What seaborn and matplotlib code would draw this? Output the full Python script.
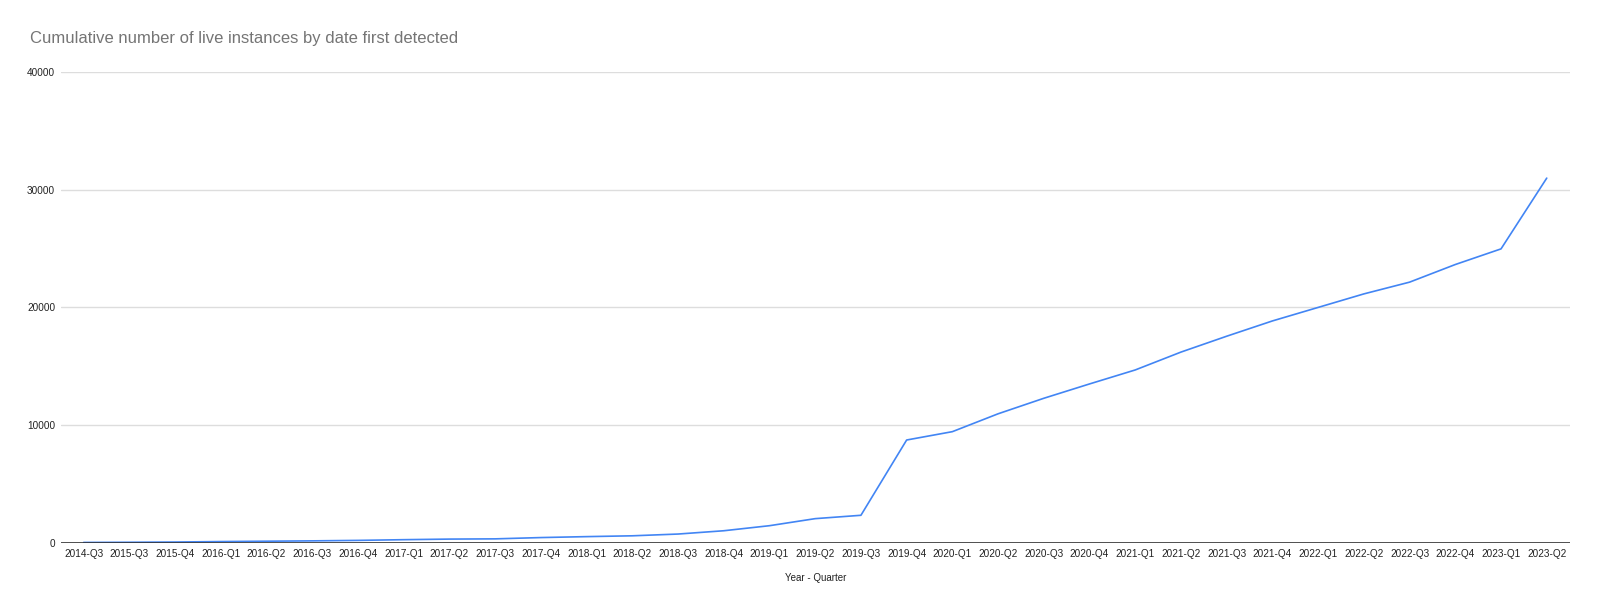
import pandas as pd
import matplotlib
matplotlib.use("Agg")
import matplotlib.pyplot as plt
import seaborn as sns

quarters = ["2014-Q3", "2015-Q3", "2015-Q4", "2016-Q1", "2016-Q2", "2016-Q3",
            "2016-Q4", "2017-Q1", "2017-Q2", "2017-Q3", "2017-Q4", "2018-Q1",
            "2018-Q2", "2018-Q3", "2018-Q4", "2019-Q1", "2019-Q2", "2019-Q3",
            "2019-Q4", "2020-Q1", "2020-Q2", "2020-Q3", "2020-Q4", "2021-Q1",
            "2021-Q2", "2021-Q3", "2021-Q4", "2022-Q1", "2022-Q2", "2022-Q3",
            "2022-Q4", "2023-Q1", "2023-Q2"]
instances = [5, 20, 40, 80, 110, 140, 180, 240, 290, 310, 420, 500,
             570, 720, 1000, 1430, 2030, 2315, 8720, 9430, 10950, 12270,
             13490, 14680, 16200, 17550, 18850, 20000, 21150, 22150,
             23650, 24980, 31000]
y_ticks = [0, 10000, 20000, 30000, 40000]

df = pd.DataFrame({"Year - Quarter": quarters, "Instances": instances})

sns.set_style("white")
plt.rcParams["font.family"] = ["Liberation Sans", "DejaVu Sans"]

fig = plt.figure(figsize=(16, 6.13), dpi=100)
ax = fig.add_axes([0.038, 0.115, 0.943, 0.767])

sns.lineplot(data=df, x="Year - Quarter", y="Instances", sort=False,
             color="#4285f4", linewidth=1.2, ax=ax)

ax.set_xlim(-0.5, len(quarters) - 0.5)
ax.set_ylim(0, 40000)
ax.set_yticks(y_ticks)
ax.set_yticklabels([str(t) for t in y_ticks])
ax.grid(axis="y", color="#dddddd", linewidth=1)
ax.axhline(0, color="#333333", linewidth=1.2, zorder=3)
for s in ax.spines.values():
    s.set_visible(False)
ax.tick_params(axis="both", length=0, labelsize=7.2, colors="#222222")
ax.tick_params(axis="x", pad=5)
ax.tick_params(axis="y", pad=4)
ax.set_ylabel("")
ax.set_xlabel("Year - Quarter", fontsize=7, color="#222222", labelpad=10)

fig.text(0.019, 1 - 39 / 613, "Cumulative number of live instances by date first detected",
         fontsize=12, color="#757575", va="center", ha="left")

fig.savefig("out.png", dpi=100)
